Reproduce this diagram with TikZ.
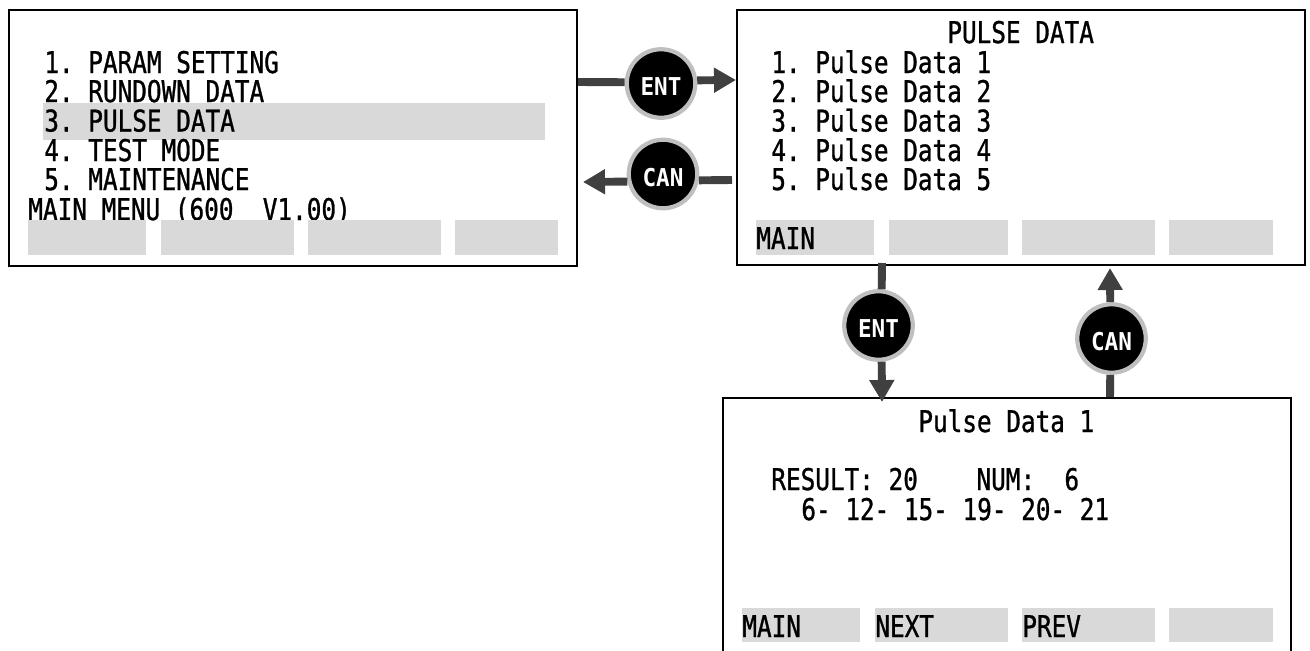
\documentclass[tikz,border=0pt]{standalone}
\usepackage{fontspec}
\usetikzlibrary{arrows.meta, positioning}
\newfontfamily\lcdfont[FakeStretch=0.815, FakeBold=1]{DejaVu Sans Mono}
\newfontfamily\keyfont[FakeStretch=0.92]{DejaVu Sans Mono Bold}
\definecolor{barfill}{HTML}{D9D9D9}
\definecolor{linkcol}{HTML}{404040}
\definecolor{rimcol}{HTML}{BFBFBF}
\tikzset{
    screen/.style={draw=black, line width=1.3pt, fill=none},
    lcd/.style={anchor=base west, inner sep=0pt, font=\lcdfont\fontsize{17}{17}\selectfont\frenchspacing},
    bar/.style={fill=barfill},
    key/.style={circle, fill=black, draw=rimcol, line width=2.4pt, minimum size=39pt, inner sep=0pt, text=white, font=\keyfont\fontsize{14}{14}\selectfont},
    link/.style={draw=linkcol, line width=4.5pt},
    linkto/.style={link, -{Triangle[length=12.5pt, width=13.5pt]}},
}
\newcommand{\keytext}[1]{\raisebox{-1.13pt}[\dimexpr\height+1.13pt\relax][0pt]{#1}}
\begin{document}
\begin{tikzpicture}[x=0.02cm, y=-0.02cm]
    \useasboundingbox (0,0) rectangle (1310,650);
    % main menu
    \fill[bar] (43,103) rectangle (545,140);
    \foreach \nr/\ypos/\txt in {1/73/1. PARAM SETTING, 2/102/2. RUNDOWN DATA, 3/131.5/3. PULSE DATA, 4/161/4. TEST MODE, 5/190/5. MAINTENANCE}
        \node[lcd] (menu\nr) at (44,\ypos) {\txt};
    \node[lcd] (menutitle) at (28,220) {MAIN MENU (600~~V1.00)};
    \foreach \xa/\xb in {28/146, 161/294, 308/441, 455/558}
        \fill[bar] (\xa,220) rectangle (\xb,255);
    \node[screen, minimum width=323pt, minimum height=145.6pt, anchor=north west] (mainbox) at (8,9) {};
    % pulse data list
    \foreach \xa/\xb in {756/874, 889/1008, 1022/1155, 1169/1273}
        \fill[bar] (\xa,220) rectangle (\xb,255);
    \node[lcd] (pulsetitle) at (947,43) {PULSE DATA};
    \foreach \nr/\ypos in {1/73, 2/102, 3/131.5, 4/161, 5/190}
        \node[lcd] (pulse\nr) at (771,\ypos) {\nr. Pulse Data \nr};
    \node[lcd] (pulsemain) at (756,249) {MAIN};
    \node[screen, minimum width=323pt, minimum height=145pt, anchor=north west] (pulsebox) at (736,9) {};
    % pulse data detail
    \foreach \xa/\xb in {742/860, 875/1008, 1022/1155, 1169/1273}
        \fill[bar] (\xa,608) rectangle (\xb,642);
    \node[lcd] (datatitle) at (918,432) {Pulse Data 1};
    \node[lcd] (dataresult) at (771,490) {RESULT: 20~~~~NUM:~~6};
    \node[lcd] (datalist) at (801,520) {6- 12- 15- 19- 20- 21};
    \node[lcd] (datamain) at (742,637) {MAIN};
    \node[lcd] (datanext) at (875,637) {NEXT};
    \node[lcd] (dataprev) at (1022,637) {PREV};
    \node[screen, minimum width=323pt, minimum height=150pt, anchor=north west] (databox) at (722,397) {};
    % keys
    \node[key] (entmain) at (661,83.5) {\keytext{ENT}};
    \node[key] (canmain) at (663,174) {\keytext{CAN}};
    \node[key] (entpulse) at (878.5,325.5) {\keytext{ENT}};
    \node[key] (canpulse) at (1111.5,338.5) {\keytext{CAN}};
    \coordinate (entfrom) at (578,82);
    \coordinate (entto) at (736,80);
    \coordinate (canfrom) at (732,180);
    \coordinate (canto) at (583,182);
    \coordinate (entdown) at (882,263);
    \coordinate (enttip) at (882,402);
    \coordinate (canup) at (1110,397);
    \coordinate (cantip) at (1110,268);
    \draw[link] (entfrom) -- (entmain.178);
    \draw[linkto] (entmain.5) -- (entto);
    \draw[link] (canfrom) -- (canmain.-10);
    \draw[linkto] (canmain.192) -- (canto);
    \draw[link] (entdown) -- (entpulse.85);
    \draw[linkto] (entpulse.-85) -- (enttip);
    \draw[link] (canup) -- (canpulse.-92);
    \draw[linkto] (canpulse.92) -- (cantip);
\end{tikzpicture}
\end{document}
